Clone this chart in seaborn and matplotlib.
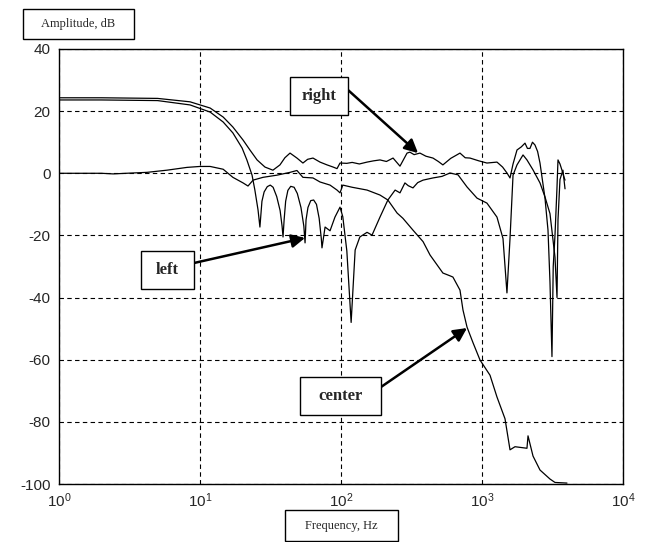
import matplotlib
matplotlib.use('Agg')
import matplotlib.pyplot as plt
import seaborn as sns
from matplotlib.patches import Rectangle
from matplotlib.ticker import NullLocator

# measured frequency responses (Hz, dB)
right_f = [1, 2, 5, 8.5, 11.8, 14.6, 17.1, 20.2, 22.6, 25.4, 28.9, 32.9, 36.9, 40, 43.5,
           48.7, 53.7, 58, 63.3, 71, 79.6, 88, 93.7, 98.4, 110, 120, 135, 153, 170, 189,
           210, 234, 262, 294, 308, 330, 363, 400, 449, 490, 528, 600, 698, 760, 822,
           950, 1084, 1277, 1400, 1503, 1580, 1660, 1771, 1900, 2018, 2100, 2188, 2280, 2376, 2480,
           2578, 2797, 2938, 3035, 3135, 3200, 3293, 3400, 3459, 3573, 3690, 3800, 3880]
right_db = [24.3, 24.3, 24.1, 23.0, 21.0, 18.1, 14.9, 10.7, 7.5, 4.3, 2.0, 1.0, 2.7, 5.0, 6.5,
            4.9, 3.3, 4.5, 4.9, 3.6, 2.7, 2.0, 1.5, 3.3, 3.2, 3.5, 3.0, 3.6, 4.0, 4.3,
            3.8, 4.9, 2.3, 6.5, 6.8, 6.0, 6.5, 5.5, 4.9, 3.8, 2.7, 4.8, 6.5, 5.0, 4.9,
            4.0, 3.3, 3.6, 2.0, 0.1, -1.5, 3.0, 7.5, 8.5, 9.7, 8.0, 8.0, 10.0, 9.1, 7.0,
            3.3, -8, -18.3, -35, -59, -30, -20, -5, 4.3, 3.0, 1.0, -1.0, -2.2]

left_f = [1, 2, 5, 8.5, 11.8, 14.6, 17.1, 19.9, 21.5, 23.4, 24.5, 25.8, 26.6,
          27.5, 28.5, 30, 31.5, 33, 35, 37, 38.2, 38.8,
          39.5, 40.5, 42, 44, 46.5, 49, 52, 54.5, 55.6,
          56.5, 58.3, 61, 64, 67, 70, 72.5, 73.3,
          77.1, 83.6, 90.6, 98.4, 103, 110, 118, 126, 136, 153, 166, 189, 215, 242, 262, 284,
          300, 324, 350, 382, 449, 520, 593, 676, 783, 922, 1084, 1277, 1409, 1503, 1580,
          1660, 1771, 1954, 2084, 2300, 2578, 2797, 3035, 3293, 3404, 3459, 3573, 3750, 3880]
left_db = [23.6, 23.6, 23.4, 22.0, 19.7, 16.5, 13.0, 8.1, 4.3, -0.6, -5.4, -11.8, -17.3,
           -9.0, -6.0, -4.3, -3.8, -4.5, -7.5, -12.0, -17.0, -20.5,
           -15.0, -9.0, -5.5, -4.2, -4.5, -6.5, -11.0, -17.0, -22.4,
           -15.0, -11.0, -8.8, -8.6, -10.0, -14.5, -21.0, -24.0,
           -17.3, -18.5, -14.1, -10.9, -14.0, -25.0, -48.0, -24.7, -20.5, -19.0, -19.9, -14.1, -8.6, -5.4, -6.3, -3.1,
           -4.0, -4.7, -3.0, -2.2, -1.5, -1.0, 0.1, -0.5, -4.4, -8.0, -9.6, -14.1, -21.0, -38.5, -21.0,
           -0.6, 2.7, 5.9, 4.3, 1.1, -3.1, -7.6, -13.0, -27.0, -40.0, -15.0, -2.0, 1.0, -5.0]

center_f = [1, 2, 2.42, 3, 4.21, 5.83, 8.09, 10, 11.8, 14.6, 17.1, 20.2, 21.9, 23.8, 28,
            35.2, 43.5, 48.7, 53.7, 63.3, 71, 83.6, 93.7, 98.4, 103, 120, 153, 189, 215, 250,
            275, 324, 382, 428, 528, 593, 622, 698, 733, 783, 863, 968, 1140, 1277, 1456,
            1580, 1714, 2084, 2120, 2300, 2578, 3035, 3293, 4006]
center_db = [0, 0, -0.2, 0, 0.3, 1.0, 1.9, 2.2, 2.2, 1.3, -1.3, -3.1, -4.1, -2.2, -1.3,
             -0.6, 0.3, 0.9, -1.3, -1.5, -2.8, -3.8, -5.4, -6.3, -3.8, -4.5, -5.4, -7.0, -8.6, -12.8,
             -14.5, -18.3, -22.0, -26.3, -32.1, -33.0, -33.4, -37.6, -44.0, -49.5, -54.5, -60.1, -65.0, -72.0, -79.0,
             -89.0, -88.0, -88.5, -84.5, -91.0, -95.5, -98.4, -99.5, -99.7]

x_ticks = [1, 10, 100, 1000, 10000]
x_tick_labels = ['$10^{0}$', '$10^{1}$', '$10^{2}$', '$10^{3}$', '$10^{4}$']
y_ticks = [-100, -80, -60, -40, -20, 0, 20, 40]

sns.set_style('white')
plt.rcParams['font.family'] = ['Liberation Sans', 'DejaVu Sans']
plt.rcParams['mathtext.fontset'] = 'custom'
plt.rcParams['mathtext.rm'] = 'Liberation Sans'
plt.rcParams['mathtext.it'] = 'Liberation Sans:italic'

W, H = 649, 542
fig = plt.figure(figsize=(W / 100, H / 100), dpi=100)
ax = fig.add_axes([59 / W, 1 - 484 / H, (623 - 59) / W, (484 - 49) / H])

for fx, dby in [(right_f, right_db), (left_f, left_db), (center_f, center_db)]:
    sns.lineplot(x=fx, y=dby, ax=ax, color='black', lw=0.9, estimator=None, sort=False)

ax.set_xscale('log')
ax.set_xlim(1, 1e4)
ax.set_ylim(-100, 40)
ax.set_xticks(x_ticks)
ax.set_xticklabels(x_tick_labels)
ax.xaxis.set_minor_locator(NullLocator())
ax.set_yticks(y_ticks)
ax.set_yticklabels([str(v) for v in y_ticks])
ax.tick_params(axis='both', labelsize=11, direction='in', length=4, color='black')
ax.tick_params(axis='x', pad=5)
ax.tick_params(axis='y', pad=6)
ax.grid(True, which='major', color='black', linestyle=(0, (4, 3)), lw=0.8)
for s in ax.spines.values():
    s.set_color('black')
    s.set_linewidth(1.0)
ax.set_xlabel('')
ax.set_ylabel('')


def box(x0, y0, x1, y1, text, **kw):
    fig.add_artist(Rectangle((x0 / W, 1 - y1 / H), (x1 - x0) / W, (y1 - y0) / H,
                             transform=fig.transFigure, fc='white', ec='black', lw=1, zorder=5))
    fig.text((x0 + x1) / 2 / W, 1 - (y0 + y1) / 2 / H, text, ha='center', va='center',
             zorder=6, **kw)


serif = ['Liberation Serif', 'DejaVu Serif']
box(23, 9, 134, 39, 'Amplitude, dB', family=serif, fontsize=9)
box(285, 510, 398, 541, 'Frequency, Hz', family=serif, fontsize=9)
box(290, 77, 348, 115, 'right', family=serif, fontsize=12, fontweight='bold')
box(141, 251, 194, 289, 'left', family=serif, fontsize=12, fontweight='bold')
box(300, 377, 381, 415, 'center', family=serif, fontsize=12, fontweight='bold')

arrow = dict(arrowstyle='-|>', color='black', lw=1.8, mutation_scale=20, shrinkA=0, shrinkB=0)
ax.annotate('', xy=(352, 6.5), xytext=(348 / W, 1 - 90 / H), textcoords='figure fraction',
            arrowprops=arrow, zorder=7)
ax.annotate('', xy=(55.6, -20.8), xytext=(194 / W, 1 - 263 / H), textcoords='figure fraction',
            arrowprops=arrow, zorder=7)
ax.annotate('', xy=(783, -49.8), xytext=(381 / W, 1 - 387 / H), textcoords='figure fraction',
            arrowprops=arrow, zorder=7)

fig.savefig('out.png', dpi=100)
